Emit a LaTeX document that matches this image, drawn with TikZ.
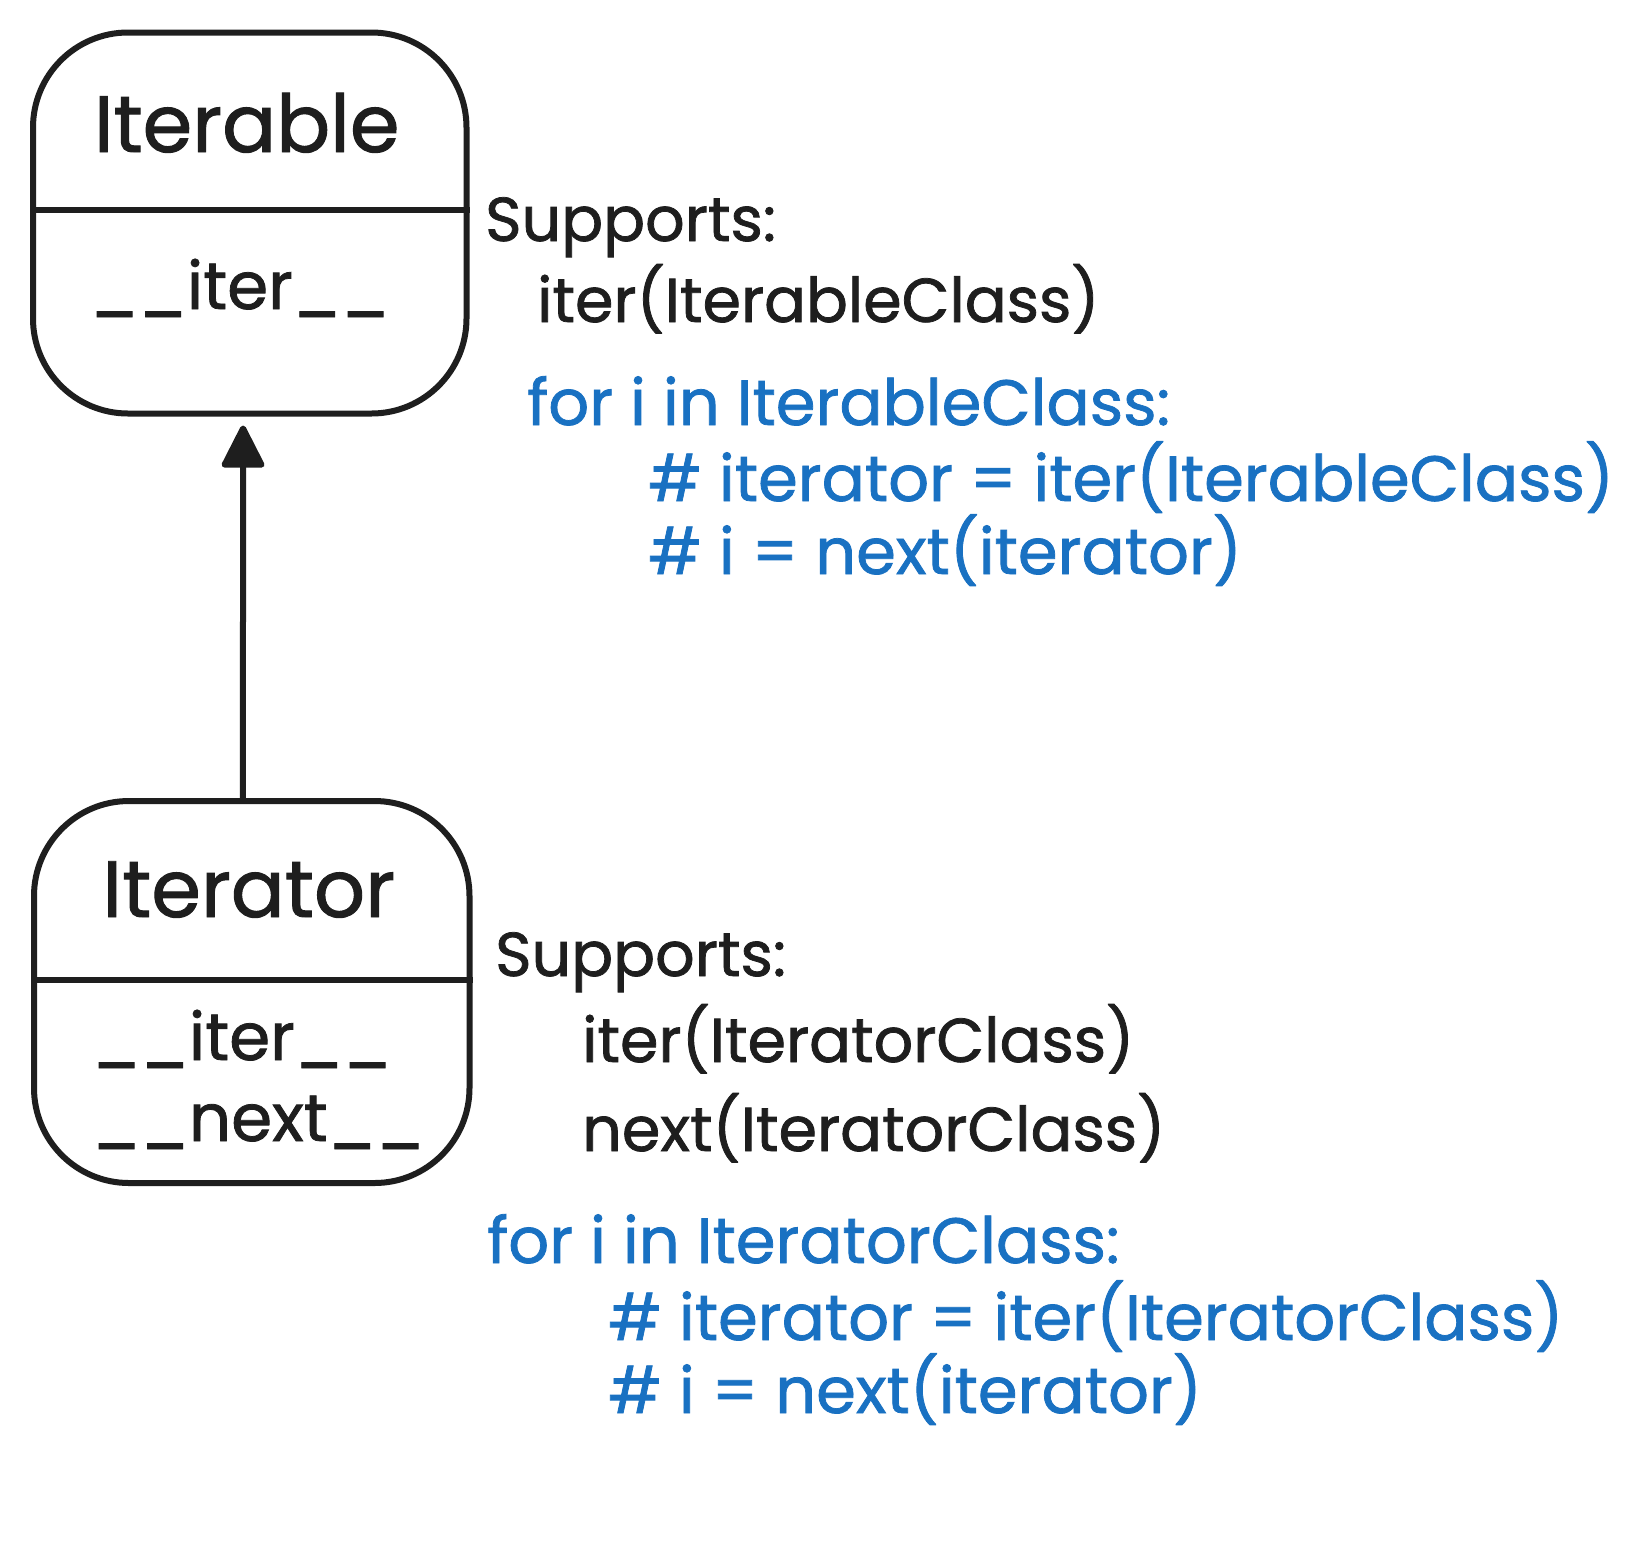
\documentclass[tikz,border=0pt]{standalone}
\usepackage{fontspec}
\setmainfont{Poppins}[FakeBold=1.2]
\usetikzlibrary{arrows.meta}
\definecolor{ink}{HTML}{1E1E1E}
\definecolor{codeblue}{HTML}{1971C2}
\begin{document}
\begin{tikzpicture}[x=1pt,y=-1pt,
  umlbox/.style={draw=ink, line width=6pt, rounded corners=95pt, inner sep=0pt, anchor=north west},
  boxtitle/.style={anchor=base, text=ink, inner sep=0pt, font=\fontsize{80}{90}\selectfont},
  member/.style={anchor=base west, text=ink, inner sep=0pt, font=\fontsize{66}{70}\selectfont},
  note/.style={anchor=base west, text=ink, inner sep=0pt, font=\fontsize{62}{70}\selectfont},
  code/.style={note, text=codeblue, font=\fontsize{64}{70}\selectfont},
  divider/.style={draw=ink, line width=6pt},
  inherit/.style={draw=ink, line width=6pt, -{Triangle[width=45pt,length=46pt,round]}, shorten >=9pt}]
\useasboundingbox[fill=white] (0,0) rectangle (1645,1540);

% Iterable class
\node[umlbox, minimum width=433.5pt, minimum height=381pt] (iterable) at (30,29.5) {};
\coordinate (d1) at (0,210);
\draw[divider] (iterable.west |- d1) -- (iterable.east |- d1);
\node[boxtitle] (iterableT) at (246.7,152) {Iterable};
\node[member] (iterableM1) at (90,309) {\_\_iter\_\_};

% Iterator class
\node[umlbox, minimum width=435.5pt, minimum height=382pt] (iterator) at (31,798) {};
\coordinate (d2) at (0,980);
\draw[divider] (iterator.west |- d2) -- (iterator.east |- d2);
\node[boxtitle] (iteratorT) at (248.8,917) {Iterator};
\node[member] (iteratorM1) at (92,1060) {\_\_iter\_\_};
\node[member] (iteratorM2) at (92,1141) {\_\_next\_\_};

% inheritance arrow
\draw[inherit] ([xshift=-8.8pt]iterator.north) -- ([xshift=-6.7pt]iterable.south);

% notes for Iterable
\node[note] (s1) at (485,241) {Supports:};
\node[note] (s1a) at (537,322) {iter(IterableClass)};
\node[code] (c1) at (527,425) {for i in IterableClass:};
\node[code] (c1a) at (648,501) {\# iterator = iter(IterableClass)};
\node[code] (c1b) at (648,574) {\# i = next(iterator)};

% notes for Iterator
\node[note] (s2) at (495,976) {Supports:};
\node[note] (s2a) at (582,1062) {iter(IteratorClass)};
\node[note] (s2b) at (582,1151) {next(IteratorClass)};
\node[code] (c2) at (487,1263) {for i in IteratorClass:};
\node[code] (c2a) at (608,1340) {\# iterator = iter(IteratorClass)};
\node[code] (c2b) at (608,1413) {\# i = next(iterator)};
\end{tikzpicture}
\end{document}
